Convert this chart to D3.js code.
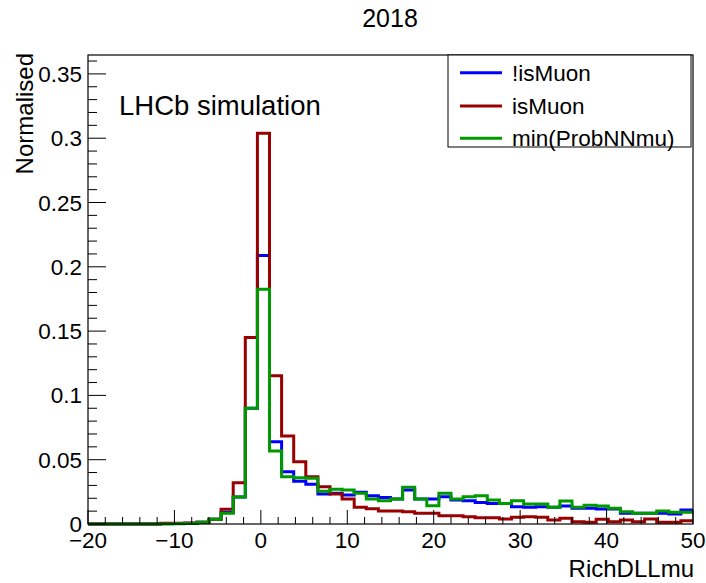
<!DOCTYPE html>
<html>
<head>
<meta charset="utf-8">
<script src="https://cdn.jsdelivr.net/npm/d3@7"></script>
<style>
  body { margin: 0; background: #fff; }
  text { font-family: "Liberation Sans", Arial, sans-serif; fill: #000; }
</style>
</head>
<body>
<div id="plot_chart"></div>
<script>
// 50 bins of width 1.4 from -20 to 50
var binLo = -20, binW = 1.4;
var notMuon = [0,0,0,0,0,0,0.0003,0.0003,0.0005,0.0013,
  0.0037,0.009,0.021,0.090,0.2087,0.064,0.0407,0.0332,0.031,0.0233,
  0.0239,0.0225,0.0246,0.022,0.0207,0.0194,0.0264,0.0194,0.0194,0.0212,
  0.0187,0.018,0.0168,0.016,0.016,0.0135,0.013,0.0135,0.013,0.014,
  0.0122,0.0122,0.0117,0.0117,0.0083,0.0083,0.0083,0.0083,0.0078,0.0109];
var isMuon = [0,0,0,0,0,0,0.0005,0.0005,0.0008,0.0013,
  0.0037,0.0114,0.032,0.145,0.3038,0.1153,0.0684,0.0485,0.0368,0.029,
  0.0233,0.0194,0.013,0.0119,0.0101,0.0101,0.0096,0.0083,0.0083,0.0065,
  0.0065,0.0057,0.0049,0.0049,0.0039,0.0052,0.0057,0.0052,0.0031,0.0044,
  0.0018,0.0013,0.0036,0.0018,0.0031,0.0018,0.0039,0.0013,0.0013,0.0026];
var minProb = [0,0,0,0,0,0,0,0.0002,0.0003,0.0013,
  0.0037,0.0083,0.021,0.090,0.1825,0.0568,0.0368,0.036,0.0355,0.0255,
  0.027,0.0264,0.0239,0.0194,0.018,0.0194,0.0285,0.0194,0.0142,0.0239,
  0.0194,0.0212,0.022,0.0187,0.016,0.018,0.0156,0.0156,0.013,0.0179,
  0.013,0.0145,0.014,0.0122,0.0096,0.0083,0.0083,0.0101,0.0091,0.0091];

var seriesNames = ['!isMuon', 'isMuon', 'min(ProbNNmu)'];
var seriesData = [notMuon, isMuon, minProb];
var colours = ['#0000ff', '#990000', '#009a00'];

var xTicks = [-20, -10, 0, 10, 20, 30, 40, 50];
var yTicks = [0, 0.05, 0.1, 0.15, 0.2, 0.25, 0.3, 0.35];

var W = 706, H = 583;
var pL = 88, pR = 693, pT = 55, pB = 524;

var x = d3.scaleLinear().domain([-20, 50]).range([pL, pR]);
var y = d3.scaleLinear().domain([0, 0.3647]).range([pB, pT]);

var svg = d3.select('#plot_chart').append('svg').attr('width', W).attr('height', H);

// histograms as steps
function stepPath(vals) {
  var p = d3.path();
  p.moveTo(x(binLo), y(0));
  vals.forEach(function(v, i) {
    var x0 = x(binLo + i*binW), x1 = x(binLo + (i+1)*binW);
    p.lineTo(x0, y(v));
    p.lineTo(x1, y(v));
  });
  return p.toString();
}
seriesData.forEach(function(d, i) {
  svg.append('path')
    .attr('d', stepPath(d))
    .attr('fill', 'none')
    .attr('stroke', colours[i])
    .attr('stroke-width', 3)
    .attr('stroke-linejoin', 'miter');
});

// frame
svg.append('rect').attr('x', pL).attr('y', pT)
  .attr('width', pR-pL).attr('height', pB-pT)
  .attr('fill', 'none').attr('stroke', '#000').attr('stroke-width', 1.2);

// x ticks
var xMinor = d3.range(-20, 50.01, 2);
svg.selectAll('.xt').data(xMinor).enter().append('line')
  .attr('x1', function(d) { return x(d); }).attr('x2', function(d) { return x(d); })
  .attr('y1', pB)
  .attr('y2', function(d) { return d % 10 === 0 ? pB-14 : pB-7; })
  .attr('stroke', '#000').attr('stroke-width', 1);
svg.selectAll('.xl').data(xTicks).enter().append('text')
  .attr('x', function(d) { return x(d); }).attr('y', 548)
  .attr('text-anchor', 'middle').attr('font-size', 22.5)
  .text(function(d) { return d < 0 ? '\u2212' + Math.abs(d) : d; });

// y ticks
var yMinor = d3.range(0, 0.3601, 0.01);
svg.selectAll('.yt').data(yMinor).enter().append('line')
  .attr('y1', function(d) { return y(d); }).attr('y2', function(d) { return y(d); })
  .attr('x1', pL)
  .attr('x2', function(d, i) { return i % 5 === 0 ? pL+18 : pL+9; })
  .attr('stroke', '#000').attr('stroke-width', 1);
svg.selectAll('.yl').data(yTicks).enter().append('text')
  .attr('x', 82).attr('y', function(d) { return y(d) + 8; })
  .attr('text-anchor', 'end').attr('font-size', 22.5)
  .text(function(d) { return d === 0 ? '0' : String(d); });

// axis titles
svg.append('text').attr('x', 694).attr('y', 577)
  .attr('text-anchor', 'end').attr('font-size', 24).text('RichDLLmu');
svg.append('text').attr('transform', 'translate(33,53) rotate(-90)')
  .attr('text-anchor', 'end').attr('font-size', 24).text('Normalised');

// title
svg.append('text').attr('x', 390).attr('y', 27)
  .attr('text-anchor', 'middle').attr('font-size', 25).text('2018');

svg.append('text').attr('x', 119).attr('y', 115)
  .attr('font-size', 27.5).text('LHCb simulation');

// legend
var lg = svg.append('g');
lg.append('rect').attr('x', 448).attr('y', 55).attr('width', 243).attr('height', 92)
  .attr('fill', '#fff').attr('stroke', '#000').attr('stroke-width', 1);
var rowsY = [72.7, 106, 138.3];
seriesNames.forEach(function(n, i) {
  lg.append('line').attr('x1', 460).attr('x2', 502)
    .attr('y1', rowsY[i]).attr('y2', rowsY[i])
    .attr('stroke', colours[i]).attr('stroke-width', 3);
  lg.append('text').attr('x', 512).attr('y', rowsY[i] + 8)
    .attr('font-size', 22.5).text(n);
});
</script>
</body>
</html>
